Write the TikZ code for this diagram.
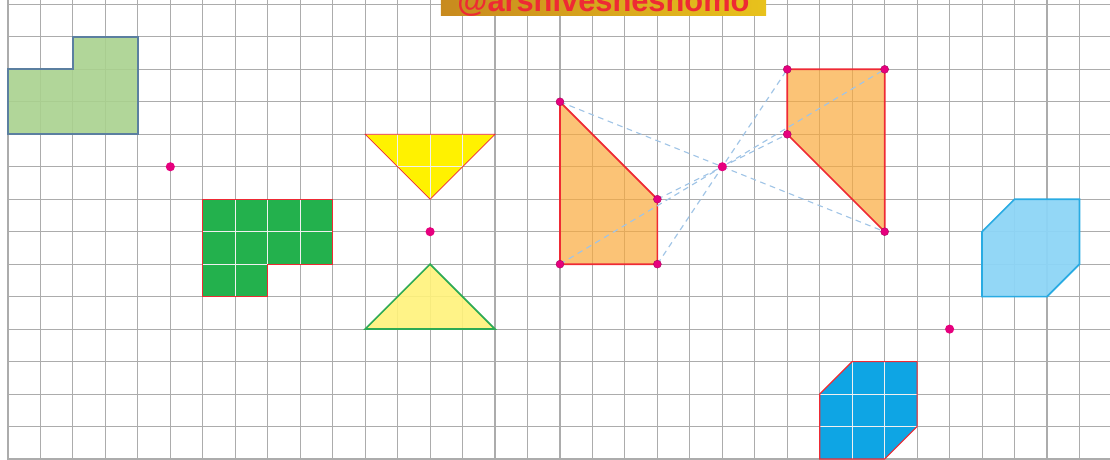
\documentclass[tikz,border=0pt]{standalone}
\usepackage{fontspec}
\setmainfont{Liberation Sans}
\definecolor{dotpink}{HTML}{E6007E}
\definecolor{edgered}{HTML}{EE2A34}
\definecolor{leafgreen}{HTML}{A9D18E}
\definecolor{slateblue}{HTML}{5B7FA0}
\definecolor{grassgreen}{HTML}{23B14D}
\definecolor{lemon}{HTML}{FFF200}
\definecolor{paleyellow}{HTML}{FFF27A}
\definecolor{rimgreen}{HTML}{2EAA55}
\definecolor{peach}{RGB}{250,170,60}
\definecolor{skyblue}{HTML}{8DD5F6}
\definecolor{rimblue}{HTML}{29ABE2}
\definecolor{seablue}{HTML}{0EA5E4}
\definecolor{dashblue}{HTML}{A0C4E6}
\definecolor{goldleft}{HTML}{C88A1E}
\definecolor{goldright}{HTML}{E8C21C}
\tikzset{
  gridline/.style={gray!65,line width=0.95pt},
  innergrid/.style={gray!12,line width=0.8pt},
  redrim/.style={draw=edgered,line width=1.2pt},
  centerdot/.style={circle,fill=dotpink,inner sep=0pt,minimum size=8pt},
  vertexdot/.style={circle,fill=dotpink,draw=dotpink!70!black,line width=0.3pt,inner sep=0pt,minimum size=7pt},
  rayline/.style={dashblue,dash pattern=on 5pt off 4pt,line width=1pt},
}
\begin{document}
\begin{tikzpicture}
    \useasboundingbox (-0.246,-0.031) rectangle (33.94,14.136);
    \clip (-0.246,-0.031) rectangle (33.94,14.136);
    \foreach \i in {0,...,33} \draw[gridline] (\i,-0.1) -- (\i,14.2);
    \foreach \j in {0,...,14} \draw[gridline] (0,\j) -- (34,\j);
    \shade[left color=goldleft,right color=goldright] (13.33,13.67) rectangle (23.35,14.3);
    \node[anchor=base,text=edgered,font=\bfseries\fontsize{27}{30}\selectfont,inner sep=0pt] (tag) at (18.34,13.77) {@arshivesheshomo};
    \filldraw[fill=leafgreen,fill opacity=0.9,draw=slateblue,line width=1.5pt] (0,10) -- (4,10) -- (4,13) -- (2,13) -- (2,12) -- (0,12) -- cycle;
    \fill[grassgreen] (6,8) -- (10,8) -- (10,6) -- (8,6) -- (8,5) -- (6,5) -- cycle;
    \begin{scope}
        \clip (6,8) -- (10,8) -- (10,6) -- (8,6) -- (8,5) -- (6,5) -- cycle;
        \draw[innergrid] (6,5) grid (10,8);
    \end{scope}
    \draw[redrim,line width=1pt] (6,8) -- (10,8) -- (10,6) -- (8,6) -- (8,5) -- (6,5) -- cycle;
    \fill[lemon] (11,10) -- (15,10) -- (13,8) -- cycle;
    \begin{scope}
        \clip (11,10) -- (15,10) -- (13,8) -- cycle;
        \draw[innergrid] (11,8) grid (15,10);
    \end{scope}
    \draw[edgered,line width=0.6pt] (11,10) -- (15,10) -- (13,8) -- cycle;
    \filldraw[fill=paleyellow,fill opacity=0.9,draw=rimgreen,line width=1.5pt] (11,4) -- (15,4) -- (13,6) -- cycle;
    \coordinate (a1) at (17,11);
    \coordinate (a2) at (20,8);
    \coordinate (a3) at (20,6);
    \coordinate (a4) at (17,6);
    \coordinate (b1) at (27,7);
    \coordinate (b2) at (24,10);
    \coordinate (b3) at (24,12);
    \coordinate (b4) at (27,12);
    \filldraw[fill=peach,fill opacity=0.7,redrim,line width=1.5pt] (a1) -- (a2) -- (a3) -- (a4) -- cycle;
    \filldraw[fill=peach,fill opacity=0.7,redrim,line width=1.5pt] (b1) -- (b2) -- (b3) -- (b4) -- cycle;
    \draw[rayline] (a1) -- (b1);
    \draw[rayline] (a2) -- (b2);
    \draw[rayline] (a3) -- (b3);
    \draw[rayline] (a4) -- (b4);
    \foreach \p in {a1,a2,a3,a4,b1,b2,b3,b4} \node[vertexdot] at (\p) {};
    \node[centerdot] (o) at (22,9) {};
    \node[centerdot] (p) at (5,9) {};
    \node[centerdot] (q) at (13,7) {};
    \node[centerdot] (r) at (29,4) {};
    \filldraw[fill=skyblue,fill opacity=0.95,draw=rimblue,line width=1.5pt] (30,7) -- (31,8) -- (33,8) -- (33,6) -- (32,5) -- (30,5) -- cycle;
    \fill[seablue] (26,3) -- (28,3) -- (28,1) -- (27,0) -- (25,0) -- (25,2) -- cycle;
    \begin{scope}
        \clip (26,3) -- (28,3) -- (28,1) -- (27,0) -- (25,0) -- (25,2) -- cycle;
        \draw[innergrid] (25,0) grid (28,3);
    \end{scope}
    \draw[redrim,line width=1pt] (26,3) -- (28,3) -- (28,1) -- (27,0) -- (25,0) -- (25,2) -- cycle;
\end{tikzpicture}
\end{document}
